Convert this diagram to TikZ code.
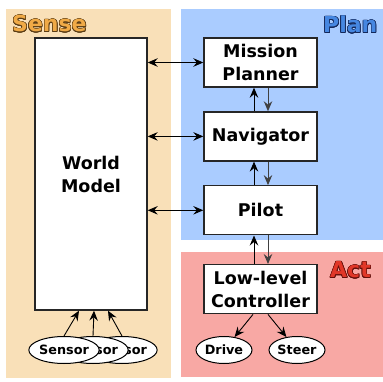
\documentclass[tikz,border=0pt]{standalone}
\usepackage{fontspec}
\setmainfont{DejaVu Sans}
\usepackage{contour}
\contourlength{0.6pt}
\usetikzlibrary{arrows.meta, positioning, shapes}

\definecolor{senseback}{RGB}{249,224,184}
\definecolor{planback}{RGB}{170,204,255}
\definecolor{actback}{RGB}{248,168,164}
\definecolor{sensetxt}{RGB}{240,170,70}
\definecolor{senseline}{RGB}{90,60,20}
\definecolor{plantxt}{RGB}{70,135,225}
\definecolor{planline}{RGB}{20,40,90}
\definecolor{acttxt}{RGB}{225,55,40}
\definecolor{actline}{RGB}{100,15,10}

\tikzset{
  block/.style={draw=black!85, fill=white, line width=1.4pt, minimum width=113pt,
    minimum height=49pt, inner sep=0pt, align=center, font=\bfseries\fontsize{17.5}{23}\selectfont},
  device/.style={ellipse, draw=black, fill=white, line width=1pt, minimum width=56pt,
    minimum height=27pt, inner sep=0pt, font=\bfseries\fontsize{12.8}{15}\selectfont},
  title/.style={inner sep=0pt, anchor=base west, font=\bfseries\fontsize{22}{26}\selectfont},
  link/.style={-{Stealth[length=10pt,width=8.5pt,inset=3.5pt]}, line width=0.9pt},
  twoway/.style={{Stealth[length=10pt,width=8.5pt,inset=3.5pt]}-{Stealth[length=10pt,width=8.5pt,inset=3.5pt]}, line width=0.9pt}
}

\begin{document}
\begin{tikzpicture}[x=1pt,y=-1pt]
\useasboundingbox (0,0) rectangle (383,382);

% regions
\fill[senseback] (6,9) rectangle (171,378);
\fill[planback] (181,9) rectangle (383,240);
\fill[actback] (181,252) rectangle (383,377);
\node[title] (sense) at (12,32) {\contour{senseline}{\textcolor{sensetxt}{Sense}}};
\node[title] (plan) at (323,33) {\contour{planline}{\textcolor{plantxt}{Plan}}};
\node[title] (act) at (330,278) {\contour{actline}{\textcolor{acttxt}{Act}}};

% blocks
\node[block, minimum width=112pt, minimum height=272pt] (world) at (91,174) {World\\Model};
\node[block] (mission) at (260.5,62.5) {Mission\\Planner};
\node[block] (nav) [below=23.5pt of mission] {Navigator};
\node[block] (pilot) [below=23.5pt of nav] {Pilot};
\node[block] (low) [below=28.5pt of pilot] {Low-level\\Controller};

% devices
\node[device] (sensorC) at (122,350) {Sensor};
\node[device] (sensorB) at (93,350) {Sensor};
\node[device] (sensorA) at (64,350) {Sensor};
\node[device] (drive) at (224,350) {Drive};
\node[device] (steer) at (297,350) {Steer};

% connections
\draw[twoway] (world.east |- mission) -- (mission.west);
\draw[twoway] (world.east |- nav) -- (nav.west);
\draw[twoway] (world.east |- pilot) -- (pilot.west);

\draw[link] ([xshift=-6.5pt]nav.north) -- ([xshift=-6.5pt]mission.south);
\draw[link, black!75] ([xshift=7.5pt]mission.south) -- ([xshift=7.5pt]nav.north);
\draw[link] ([xshift=-6.5pt]pilot.north) -- ([xshift=-6.5pt]nav.south);
\draw[link, black!75] ([xshift=7.5pt]nav.south) -- ([xshift=7.5pt]pilot.north);
\draw[link] ([xshift=-6.5pt]low.north) -- ([xshift=-6.5pt]pilot.south);
\draw[link, black!75] ([xshift=7.5pt]pilot.south) -- ([xshift=7.5pt]low.north);

\draw[link] ([xshift=-7.5pt]low.south) -- (drive);
\draw[link] ([xshift=7.5pt]low.south) -- (steer);

\draw[link] (sensorA.north) -- ([xshift=-12pt]world.south);
\draw[link] (sensorB.north) -- ([xshift=3pt]world.south);
\draw[link] (sensorC.north) -- ([xshift=17pt]world.south);
\end{tikzpicture}
\end{document}
